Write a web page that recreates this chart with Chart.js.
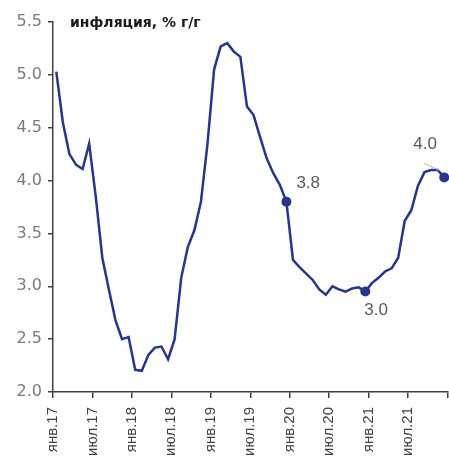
<!DOCTYPE html>
<html>
<head>
<meta charset="utf-8">
<script src="https://cdn.jsdelivr.net/npm/chart.js@4"></script>
<style>
    html, body { margin: 0; padding: 0; background: #fff; }
    #wrap { width: 449px; height: 457px; }
</style>
</head>
<body>
<div id="wrap"><canvas id="myChart"></canvas></div>
<script>
// подписи оси X (каждые 6 месяцев)
var tickLabels = ['янв.17', 'июл.17', 'янв.18', 'июл.18', 'янв.19', 'июл.19', 'янв.20', 'июл.20', 'янв.21', 'июл.21'];

// инфляция по месяцам, янв.17 - дек.21
var inflation = [
    5.03, 4.55, 4.25, 4.15, 4.11, 4.35, 3.85, 3.27, 2.97, 2.68, 2.50, 2.52,
    2.21, 2.20, 2.35, 2.42, 2.43, 2.31, 2.50, 3.08, 3.37, 3.53, 3.80, 4.35,
    5.05, 5.27, 5.30, 5.22, 5.17, 4.70, 4.62, 4.41, 4.21, 4.07, 3.96, 3.80,
    3.25, 3.18, 3.12, 3.06, 2.97, 2.92, 3.00, 2.97, 2.95, 2.98, 2.99, 2.95,
    3.03, 3.08, 3.14, 3.17, 3.27, 3.62, 3.72, 3.95, 4.08, 4.10, 4.10, 4.03
];

// отмеченные точки (конец года)
var markedIndex = [35, 47, 59];
var markedText = ['3.8', '3.0', '4.0'];

var yTicks = [2.0, 2.5, 3.0, 3.5, 4.0, 4.5, 5.0, 5.5];

var points = [];
for (var i = 0; i < inflation.length; i++) {
    points.push({ x: i + 0.5, y: inflation[i] });
}

var lineColor = '#27358a';

var labelsPlugin = {
    id: 'labelsPlugin',
    afterDatasetsDraw: function(chart) {
        var ctx = chart.ctx;
        var xs = chart.scales.x, ys = chart.scales.y;
        // смещения подписей относительно точки
        var offsets = { 35: [10, -18], 47: [-1, 19], 59: [-31, -33] };
        ctx.save();
        ctx.font = '17px "Liberation Sans", Arial, sans-serif';
        ctx.fillStyle = '#595959';
        ctx.textBaseline = 'middle';
        ctx.textAlign = 'left';
        for (var k = 0; k < markedIndex.length; k++) {
            var idx = markedIndex[k];
            var px = xs.getPixelForValue(idx + 0.5);
            var py = ys.getPixelForValue(inflation[idx]);
            var o = offsets[idx];
            ctx.fillText(markedText[k], px + o[0], py + o[1]);
            if (idx === 59) {
                ctx.strokeStyle = '#b0b0b0';
                ctx.lineWidth = 1;
                ctx.beginPath();
                ctx.moveTo(px - 20, py - 14);
                ctx.lineTo(px - 5, py - 7);
                ctx.stroke();
            }
        }
        // заголовок
        ctx.font = 'bold 14px "DejaVu Sans", sans-serif';
        ctx.fillStyle = '#1a1a1a';
        ctx.fillText('инфляция, % г/г', chart.chartArea.left + 17, chart.chartArea.top + 1);
        ctx.restore();
    }
};

var ctx = document.getElementById('myChart').getContext('2d');
var myChart = new Chart(ctx, {
    type: 'line',
    data: {
        datasets: [{
            data: points,
            borderColor: lineColor,
            backgroundColor: lineColor,
            borderWidth: 2.5,
            tension: 0,
            pointRadius: function(c) { return markedIndex.indexOf(c.dataIndex) >= 0 ? 5 : 0; },
            pointHoverRadius: 5,
            pointBorderWidth: 0,
            clip: false
        }]
    },
    options: {
        responsive: true,
        maintainAspectRatio: false,
        animation: false,
        layout: { autoPadding: false, padding: { top: 22, right: 1.5, left: 0, bottom: 0 } },
        plugins: {
            legend: { display: false },
            tooltip: { enabled: false }
        },
        scales: {
            x: {
                type: 'linear',
                min: 0,
                max: 60,
                afterFit: function(s) { s.height = 65; s.paddingLeft = 0; s.paddingRight = 0; },
                afterBuildTicks: function(s) {
                    s.ticks = [];
                    for (var j = 0; j <= tickLabels.length; j++) s.ticks.push({ value: j * 6 });
                },
                ticks: {
                    autoSkip: false,
                    minRotation: 90,
                    maxRotation: 90,
                    padding: 9,
                    color: '#404040',
                    font: { family: '"Liberation Sans", Arial, sans-serif', size: 15 },
                    callback: function(v) { return tickLabels[v / 6] || ''; }
                },
                grid: { drawOnChartArea: false, tickLength: 6, color: '#404040', lineWidth: 1.5 },
                border: { color: '#404040', width: 1.5 }
            },
            y: {
                min: 2,
                max: 5.5,
                afterFit: function(s) { s.width = 53; s.paddingTop = 0; s.paddingBottom = 0; },
                afterBuildTicks: function(s) {
                    s.ticks = yTicks.map(function(v) { return { value: v }; });
                },
                ticks: {
                    padding: 6,
                    color: '#7a7a7a',
                    font: { family: '"DejaVu Sans", sans-serif', size: 16 },
                    callback: function(v) { return v.toFixed(1); }
                },
                grid: { drawOnChartArea: false, tickLength: 5, color: '#404040', lineWidth: 1.5 },
                border: { color: '#404040', width: 1.5 }
            }
        }
    },
    plugins: [labelsPlugin]
});
</script>
</body>
</html>
